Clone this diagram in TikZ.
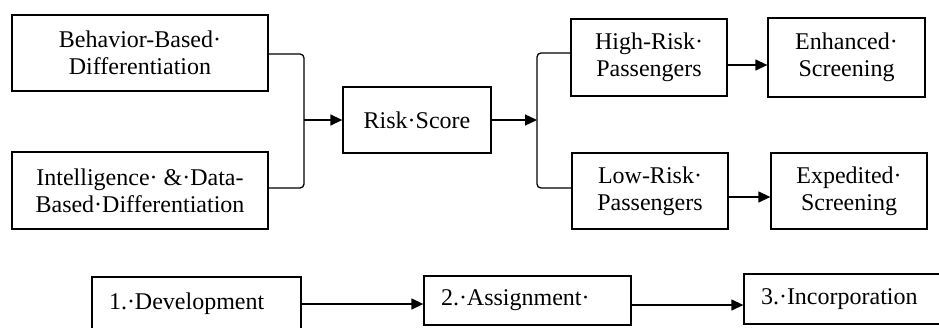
\documentclass[tikz,border=0pt]{standalone}
\usepackage{fontspec}
\setmainfont{Liberation Serif}
\usetikzlibrary{arrows.meta}
\begin{document}
\begin{tikzpicture}[x=1pt,y=-1pt,
  box/.style={draw, line width=1.3pt, inner sep=0pt, align=center,
    font=\fontsize{24}{27}\selectfont},
  lbox/.style={box, align=left, inner xsep=17pt},
  conn/.style={line width=1.3pt},
  arr/.style={conn, -{Triangle[length=12pt,width=11pt]}}]
\useasboundingbox (0,0) rectangle (939,327);
\clip (0,0) rectangle (939,327);
% top row
\node[box, minimum width=256pt, minimum height=76pt] (b1) at (140,53) {Behavior-Based·\\Differentiation};
\node[box, minimum width=256pt, minimum height=77pt] (b2) at (140,190.5) {Intelligence· \&·Data-\\Based·Differentiation};
\node[box, minimum width=148pt, minimum height=66pt] (rs) at (417,120) {Risk·Score};
\node[box, minimum width=156pt, minimum height=77pt] (hr) at (649,57.5) {High-Risk·\\Passengers};
\node[box, minimum width=156pt, minimum height=76pt] (lr) at (650,191) {Low-Risk·\\Passengers};
\node[box, minimum width=157pt, minimum height=79pt] (en) at (846.5,57.5) {Enhanced·\\Screening};
\node[box, minimum width=156pt, minimum height=76pt] (ex) at (849,191) {Expedited·\\Screening};
\coordinate (j1) at (304,120);
\coordinate (j2) at (537,120);
\draw[conn, rounded corners=4pt] ([yshift=-1pt]b1.east) -| (j1) |- ([yshift=2.5pt]b2.east);
\draw[arr] (j1) -- (rs.west);
\draw[arr] (rs.east) -- (j2);
\draw[conn, rounded corners=4pt] ([yshift=4.5pt]hr.west) -| (j2) |- ([yshift=3pt]lr.west);
\draw[arr] ([yshift=-7.5pt]hr.east) -- ([yshift=-7.5pt]hr.east -| en.west);
\draw[arr] ([yshift=-6pt]lr.east) -- ([yshift=-6pt]lr.east -| ex.west);
% bottom row
\node[lbox, text width=175pt, minimum height=54pt] (d1) at (196.5,304) {1.·Development};
\node[lbox, text width=173pt, minimum height=49pt] (d2) at (527.5,300.5) {2.·Assignment·};
\node[lbox, text width=176pt, minimum height=50pt] (d3) at (849,299) {3.·Incorporation};
\draw[arr] (d1.east) -- (d1.east -| d2.west);
\draw[arr] ([yshift=-4.5pt]d2.east) -- ([yshift=-6pt]d3.west);
\end{tikzpicture}
\end{document}
